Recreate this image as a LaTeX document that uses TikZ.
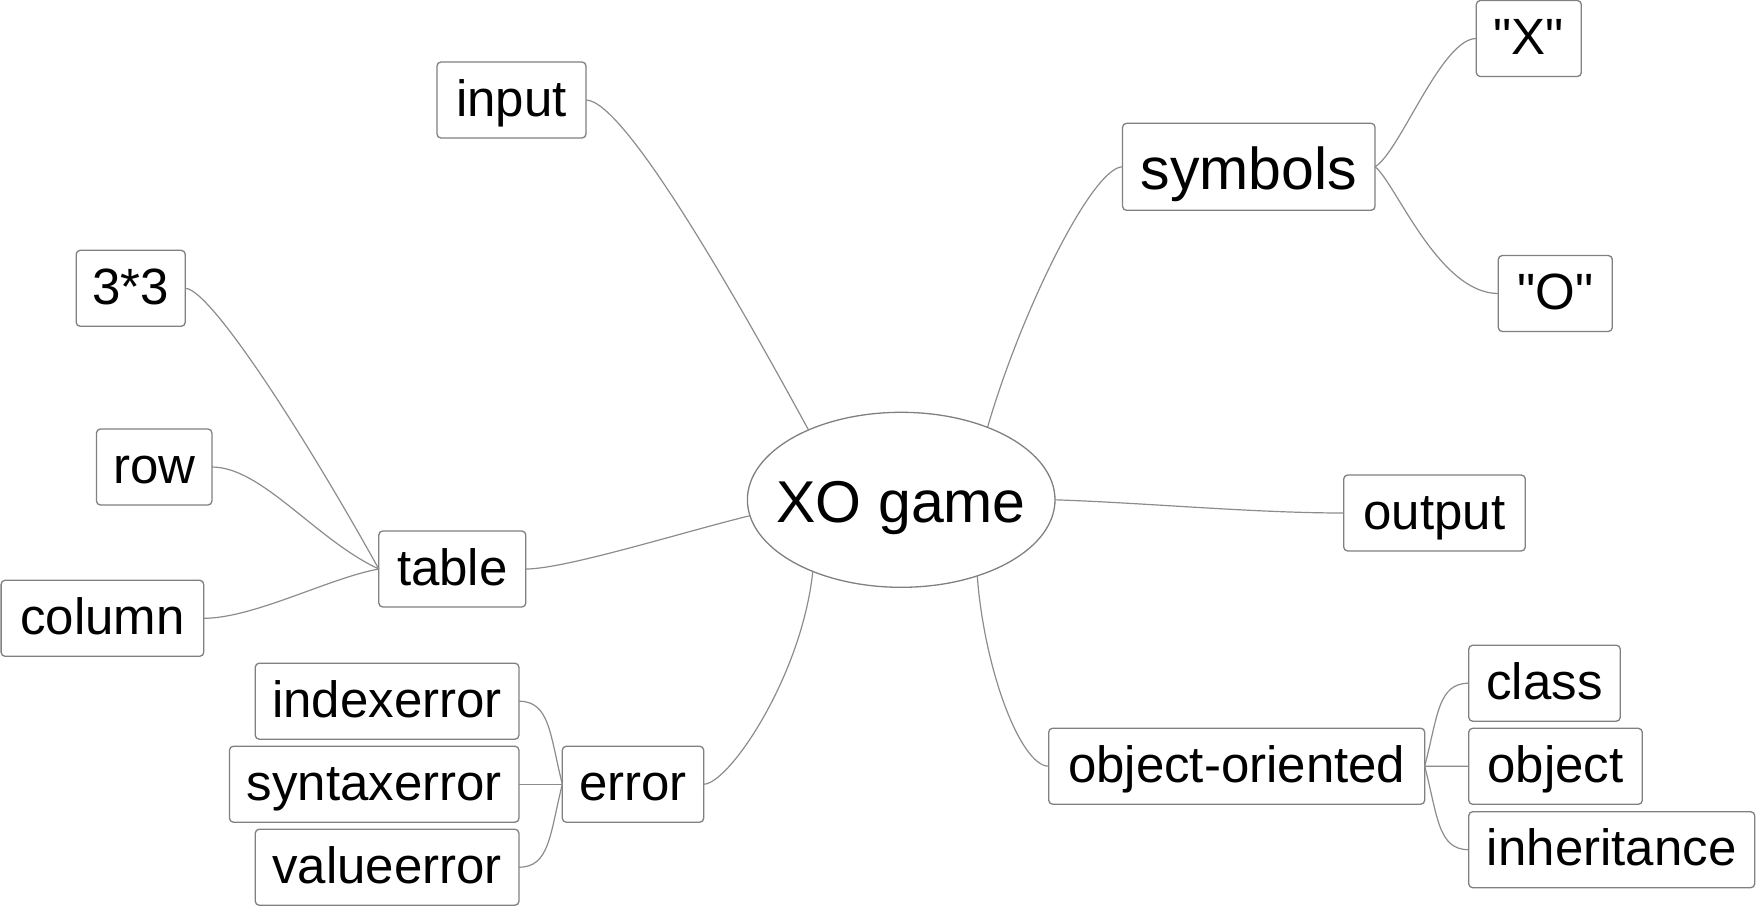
\documentclass[tikz,border=0pt]{standalone}
\usepackage{fontspec}
\setmainfont{Liberation Sans}[Ligatures=TeXOff]
\usetikzlibrary{shapes.geometric}
\definecolor{boxgray}{RGB}{128,128,128}
\definecolor{linegray}{RGB}{140,140,140}
\tikzset{
  box/.style={draw=boxgray, line width=1.3pt, rounded corners=4pt, fill=white,
    inner sep=0pt, outer sep=0pt, minimum height=76pt,
    font=\fontsize{51}{60}\selectfont, text height=39.8pt, text depth=7.6pt},
  bigbox/.style={box, minimum height=87pt,
    font=\fontsize{59}{68}\selectfont, text height=53.1pt, text depth=8.1pt},
  rootnode/.style={draw=boxgray, line width=1.3pt, ellipse, fill=white,
    inner sep=0pt, outer sep=0pt, minimum width=307.6pt, minimum height=175pt,
    font=\fontsize{59}{68}\selectfont, text height=53.1pt, text depth=8.1pt},
  conn/.style={draw=linegray, line width=1.2pt},
}
\begin{document}
\begin{tikzpicture}[x=1pt,y=-1pt]
\useasboundingbox (0,0) rectangle (1756,906);
\node[rootnode] (root) at (901.2,499.8) {\makebox[0pt][c]{XO game}};
\node[box, minimum width=149pt] (input) at (511.5,100) {input};
\node[box, minimum width=109pt] (c33) at (130.7,288.3) {3*3};
\node[box, minimum width=115.5pt] (row) at (154.2,467) {row};
\node[box, minimum width=147pt] (table) at (452.3,569) {table};
\node[box, minimum width=202.6pt] (column) at (102.4,618.3) {column};
\node[box, minimum width=263.7pt] (indexerror) at (387.1,701.2) {indexerror};
\node[box, minimum width=289.5pt] (syntaxerror) at (374.2,784.2) {syntaxerror};
\node[box, minimum width=263.7pt] (valueerror) at (387.1,867.2) {valueerror};
\node[box, minimum width=141.4pt] (error) at (633,784.2) {error};
\node[bigbox, minimum width=252.5pt] (symbols) at (1248.8,166.8) {symbols};
\node[box, minimum width=105pt] (X) at (1528.8,38.5) {"X"};
\node[box, minimum width=114pt] (O) at (1555.3,293.5) {"O"};
\node[box, minimum width=181.6pt] (output) at (1434.5,513) {output};
\node[box, minimum width=376pt] (oo) at (1236.7,766.2) {object-oriented};
\node[box, minimum width=151.6pt] (class) at (1544.5,683.2) {class};
\node[box, minimum width=173.6pt] (object) at (1555.5,766.3) {object};
\node[box, minimum width=286pt] (inheritance) at (1611.7,849.7) {inheritance};

% root connectors
\draw[conn] (root.143.4) .. controls +(-60,-110) and +(40,0) .. (input.east);
\draw[conn] (root.40.7) .. controls +(34,-117) and +(-30,0) .. (symbols.west);
\draw[conn] (root.-0.9) .. controls +(90,3) and +(-90,0) .. (output.west);
\draw[conn] (root.-45.8) .. controls +(7,94) and +(-28,0) .. (oo.west);
\draw[conn] (root.219.7) .. controls +(-11,105) and +(25,0) .. (error.east);
\draw[conn] (root.186.1) .. controls +(-66,16) and +(40,0) .. (table.east);
% symbols children
\draw[conn] (symbols.east) .. controls +(25,-15) and +(-35,0) .. (X.west);
\draw[conn] (symbols.east) .. controls +(20,15) and +(-60,0) .. (O.west);
% table children
\draw[conn] (table.west) .. controls +(-72.7,-131.2) and +(25,0) .. (c33.east);
\draw[conn] (table.west) .. controls +(-63.4,-29.6) and +(50,0) .. (row.east);
\draw[conn] (table.west) .. controls +(-49,8.7) and +(50,0) .. (column.east);
% error children
\draw[conn] (error.west) .. controls +(-12.5,-50) and +(30.8,0) .. (indexerror.east);
\draw[conn] (error.west) -- (syntaxerror.east);
\draw[conn] (error.west) .. controls +(-12.5,50) and +(30.8,0) .. (valueerror.east);
% object-oriented children
\draw[conn] (oo.east) .. controls +(13,-50) and +(-30.8,0) .. (class.west);
\draw[conn] (oo.east) -- (object.west);
\draw[conn] (oo.east) .. controls +(13,50) and +(-30.8,0) .. (inheritance.west);
\end{tikzpicture}
\end{document}
